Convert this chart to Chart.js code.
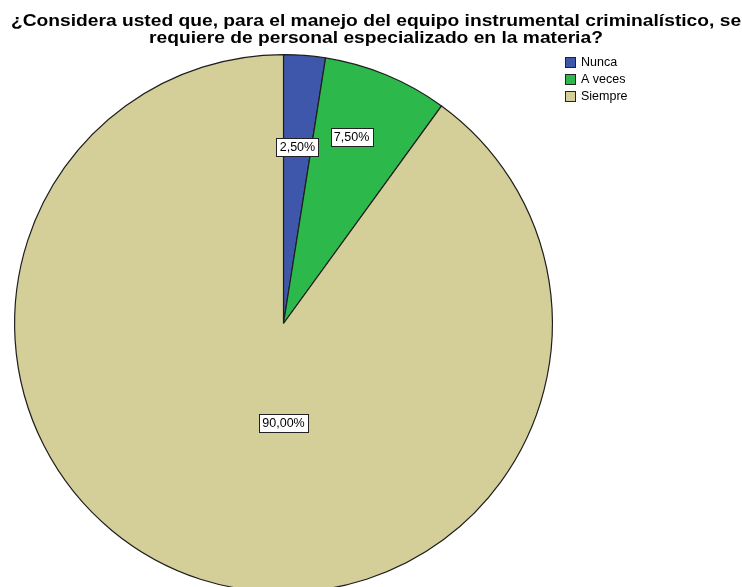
<!DOCTYPE html>
<html>
<head>
<meta charset="utf-8">
<script src="https://cdn.jsdelivr.net/npm/chart.js@4"></script>
<style>
  html, body { margin: 0; padding: 0; background: #fff; overflow: hidden; }
  #wrap { width: 742px; height: 587px; overflow: hidden; }
</style>
</head>
<body>
<div id="wrap"><canvas id="pie" width="742" height="600"></canvas></div>
<script>
// data
var categories = ["Nunca", "A veces", "Siempre"];
var percents = [2.5, 7.5, 90.0];
var sliceColors = ["#3F57AB", "#2DB84B", "#D4CE99"];
var titleLines = ["¿Considera usted que, para el manejo del equipo instrumental criminalístico, se",
                  "requiere de personal especializado en la materia?"];

// where the % boxes sit: angle from top (deg, clockwise) and share of radius
var labelAngles = [4.5, 20, 180];
var labelRadius = [0.66, 0.74, 0.37];

//title over the whole width (the built-in one gets squeezed to the chart area)
var wideTitle = {
  id: "wideTitle",
  afterDraw: function(chart) {
    var ctx = chart.ctx;
    ctx.save();
    ctx.font = "bold 17px 'Liberation Sans', Arial, sans-serif";
    ctx.textAlign = "center";
    ctx.textBaseline = "middle";
    ctx.fillStyle = "#000";
    ctx.translate(chart.width / 2 + 5, 0);
    ctx.scale(1.13, 1);
    titleLines.forEach(function(line, i) {
      ctx.fillText(line, 0, 21 + i * 17);
    });
    ctx.restore();
  }
};

//draw the white % boxes on the slices
var pctLabels = {
  id: "pctLabels",
  afterDatasetsDraw: function(chart) {
    var ctx = chart.ctx;
    var arcs = chart.getDatasetMeta(0).data;
    ctx.save();
    ctx.font = "12.5px 'Liberation Sans', Arial, sans-serif";
    ctx.textAlign = "center";
    ctx.textBaseline = "middle";
    arcs.forEach(function(arc, i) {
      var a = (labelAngles[i] - 90) * Math.PI / 180;
      var r = arc.outerRadius * labelRadius[i];
      var x = arc.x + Math.cos(a) * r;
      var y = arc.y + Math.sin(a) * r;
      var txt = percents[i].toFixed(2).replace(".", ",") + "%";
      var w = Math.round(ctx.measureText(txt).width + 7);
      var h = 18;
      var bx = Math.round(x - w / 2) + 0.5, by = Math.round(y - h / 2) + 0.5;
      ctx.fillStyle = "#fff";
      ctx.fillRect(bx, by, w, h);
      ctx.strokeStyle = "#222";
      ctx.lineWidth = 1;
      ctx.strokeRect(bx, by, w, h);
      ctx.fillStyle = "#000";
      ctx.fillText(txt, x, y + 1);
    });
    ctx.restore();
  }
};

//small legend at top right
var cornerLegend = {
  id: "cornerLegend",
  afterDraw: function(chart) {
    var ctx = chart.ctx;
    ctx.save();
    ctx.font = "12.5px 'Liberation Sans', Arial, sans-serif";
    ctx.textBaseline = "middle";
    categories.forEach(function(name, i) {
      var y = 57 + i * 17;
      ctx.fillStyle = sliceColors[i];
      ctx.fillRect(565.5, y + 0.5, 10, 10);
      ctx.strokeStyle = "#222";
      ctx.lineWidth = 1;
      ctx.strokeRect(565.5, y + 0.5, 10, 10);
      ctx.fillStyle = "#000";
      ctx.fillText(name, 581, y + 6);
    });
    ctx.restore();
  }
};

var chart1 = new Chart(document.getElementById("pie"), {
  type: "pie",
  data: {
    labels: categories,
    datasets: [{
      data: percents,
      backgroundColor: sliceColors,
      borderColor: "#1e1e1e",
      borderWidth: 1.2
    }]
  },
  options: {
    responsive: false,
    animation: false,
    layout: { padding: { left: 14, right: 189, top: 54, bottom: 7 } },
    plugins: {
      legend: { display: false },
      tooltip: { enabled: false },
      title: { display: false }
    }
  },
  plugins: [pctLabels, cornerLegend, wideTitle]
});
</script>
</body>
</html>
